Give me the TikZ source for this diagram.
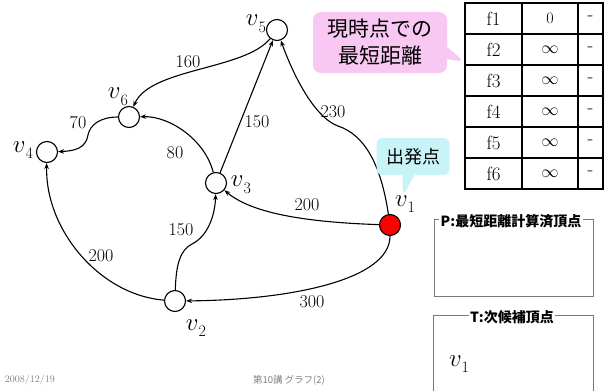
\documentclass[tikz,border=0pt]{standalone}
\usepackage{fontspec}
\newfontfamily\cjk{Noto Sans CJK JP}
\usetikzlibrary{arrows.meta,shapes.callouts}
\definecolor{calloutpink}{RGB}{249,200,242}
\definecolor{callcyan}{RGB}{200,244,248}
\definecolor{boxgray}{RGB}{120,120,120}
\definecolor{footgray}{RGB}{128,128,128}
\newcommand\vlab[1]{\fontsize{28}{28}\selectfont$v$\raisebox{-6.5pt}{\fontsize{16}{16}\selectfont#1}}
\begin{document}
\begin{tikzpicture}[x=1pt,y=-1pt,
  vert/.style={circle,draw,line width=1.1pt,minimum size=21pt,inner sep=0pt},
  edge/.style={line width=1.1pt,-{Stealth[length=6pt,width=4.5pt]}},
  wlabel/.style={font=\fontsize{18}{18}\selectfont,inner sep=0pt},
  vlabel/.style={inner sep=0pt},
  cell/.style={inner sep=0pt,font=\fontsize{19}{19}\selectfont},
  title/.style={fill=white,inner sep=1.5pt,font=\cjk\bfseries\fontsize{14}{14}\selectfont},
  foot/.style={text=footgray,inner sep=0pt},
]
\useasboundingbox (0,0) rectangle (609,391);

% vertices
\node[vert,fill=red] (v1) at (390,225) {};
\node[vert] (v2) at (175,301) {};
\node[vert] (v3) at (216,183) {};
\node[vert] (v4) at (47,152) {};
\node[vert] (v5) at (277,30) {};
\node[vert] (v6) at (129,117) {};

% vertex labels
\node[vlabel] (l5) at (256,24) {\vlab{5}};
\node[vlabel] (l6) at (118,97) {\vlab{6}};
\node[vlabel] (l4) at (23,150) {\vlab{4}};
\node[vlabel] (l3) at (241,185) {\vlab{3}};
\node[vlabel] (l2) at (196,328) {\vlab{2}};
\node[vlabel] (l1) at (405,204) {\vlab{1}};

% edges
\draw[edge] (v1) .. controls (381,165) and (365,135) .. (338,126)
                 .. controls (318,119) and (297,85) .. (v5);
\draw[edge] (v1) .. controls (300,222) and (250,212) .. (v3);
\draw[edge] (v1) .. controls (390,280) and (290,300) .. (v2);
\draw[edge] (v2) .. controls (176,265) and (180,250) .. (192,244)
                 .. controls (208,236) and (215,215) .. (v3);
\draw[edge] (v2) .. controls (100,295) and (45,230) .. (v4);
\draw[edge] (v3) -- (v5);
\draw[edge] (v5) .. controls (245,70) and (150,68) .. (v6);
\draw[edge] (v3) .. controls (205,140) and (170,116) .. (v6);
\draw[edge] (v6) .. controls (100,117) and (90,125) .. (88,135)
                 .. controls (86,148) and (75,151) .. (v4);

% edge labels
\node[wlabel] (w230) at (333,112) {230};
\node[wlabel] (w200a) at (307,205) {200};
\node[wlabel] (w300) at (312,302) {300};
\node[wlabel] (w150a) at (181,230) {150};
\node[wlabel] (w200b) at (101,256) {200};
\node[wlabel] (w150b) at (257,122) {150};
\node[wlabel] (w160) at (188,62) {160};
\node[wlabel] (w80) at (175,153) {80};
\node[wlabel] (w70) at (78,123) {70};

% callouts
\node[rectangle callout, rounded corners=8pt, fill=calloutpink,
      minimum width=134pt, minimum height=61pt, inner sep=0pt,
      callout absolute pointer={(465,62)}, callout pointer width=12pt,
      align=center, font=\cjk\fontsize{21}{27}\selectfont]
      (cur) at (380,42.5) {現時点での\\最短距離};
\node[rectangle callout, rounded corners=6pt, fill=callcyan,
      minimum width=73pt, minimum height=37pt, inner sep=0pt,
      callout absolute pointer={(403,196)}, callout pointer width=12pt,
      font=\cjk\fontsize{18}{18}\selectfont]
      (start) at (413,156.5) {出発点};

% table
\draw[line width=1.1pt] (465,3) rectangle (603,189);
\foreach \x in {522,578} \draw[line width=1.1pt] (\x,3) -- (\x,189);
\foreach \y in {34,65,96,127,158} \draw[line width=1.1pt] (465,\y) -- (603,\y);
\node[cell] (f1) at (493.5,18.5) {f1};
\node[cell] (f2) at (493.5,49.5) {f2};
\node[cell] (f3) at (493.5,80.5) {f3};
\node[cell] (f4) at (493.5,111.5) {f4};
\node[cell] (f5) at (493.5,142.5) {f5};
\node[cell] (f6) at (493.5,173.5) {f6};
\node[cell,font=\fontsize{16}{16}\selectfont] (d1) at (550,18.5) {0};
\node[cell] (d2) at (550,49.5) {$\infty$};
\node[cell] (d3) at (550,80.5) {$\infty$};
\node[cell] (d4) at (550,111.5) {$\infty$};
\node[cell] (d5) at (550,142.5) {$\infty$};
\node[cell] (d6) at (550,173.5) {$\infty$};
\node[cell] (p1) at (590.5,18.5) {-};
\node[cell] (p2) at (590.5,49.5) {-};
\node[cell] (p3) at (590.5,80.5) {-};
\node[cell] (p4) at (590.5,111.5) {-};
\node[cell] (p5) at (590.5,142.5) {-};
\node[cell] (p6) at (590.5,173.5) {-};

% P box
\node[draw=boxgray, line width=1pt, minimum width=159pt, minimum height=77pt,
      anchor=north west, inner sep=0pt] (Pbox) at (434,219) {};
\node[title] (Ptitle) at (511,221) {P:最短距離計算済頂点};

% T box
\draw[boxgray, line width=1pt] (433,391) -- (433,315) -- (593,315) -- (593,391);
\node[title] (Ttitle) at (512,317) {T:次候補頂点};
\node[vlabel] (tv1) at (459,364) {\vlab{1}};

% footer
\node[foot,font=\fontsize{10}{10}\selectfont] (date) at (30,380) {2008/12/19};
\node[foot,font=\cjk\fontsize{9.5}{10}\selectfont] (lect) at (289,380) {第10講 グラフ(2)};
\end{tikzpicture}
\end{document}
